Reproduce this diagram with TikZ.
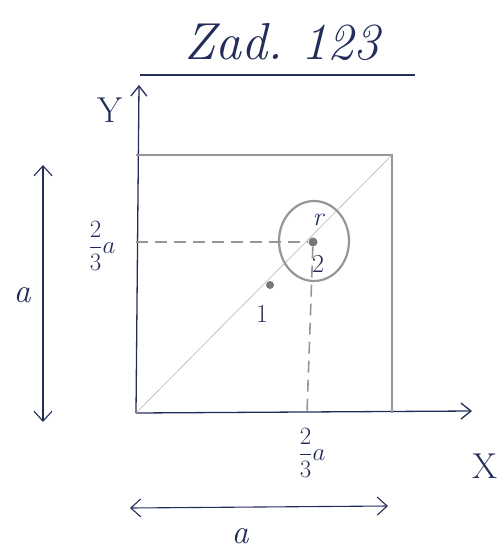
\documentclass[tikz,border=0pt]{standalone}
\usetikzlibrary{arrows.meta}
\definecolor{ink}{RGB}{35,45,90}
\definecolor{pencil}{RGB}{150,150,150}
\tikzset{
  hand/.style={text=ink, font=\itshape\fontsize{28}{28}\selectfont, inner sep=0pt},
  small/.style={text=ink, font=\itshape\fontsize{27}{27}\selectfont, inner sep=0pt},
  axis/.style={draw=ink, line width=1.3pt, -{Straight Barb[length=10pt,width=16pt]}},
  dimarrow/.style={draw=ink, line width=1.1pt, {Straight Barb[length=10pt,width=18pt]}-{Straight Barb[length=10pt,width=18pt]}},
  grayline/.style={draw=pencil, line width=1.2pt},
  thinline/.style={draw=pencil!70, line width=0.6pt},
  dashline/.style={draw=pencil, line width=1.6pt, dash pattern=on 12pt off 7pt},
  dot/.style={circle, fill=pencil!80!black, minimum size=9pt, inner sep=0pt}
}
\begin{document}
\begin{tikzpicture}[x=1pt,y=-1pt]
\useasboundingbox (0,0) rectangle (502,549);
% title
\node[hand, font=\itshape\fontsize{52}{52}\selectfont] (title) at (282,42) {Zad.\ 123};
\coordinate (ul1) at (140,75);
\coordinate (ul2) at (415,75);
\draw[ink, line width=1.3pt] (ul1) -- (ul2);
% axes
\coordinate (O) at (136,413);
\coordinate (Ytop) at (139,85);
\coordinate (Xend) at (472,411);
\draw[axis] (O) -- (Ytop);
\draw[axis] (O) -- (Xend);
\node[hand, font=\fontsize{36}{36}\selectfont] (Ylab) at (110,110) {Y};
\node[hand, font=\fontsize{36}{36}\selectfont] (Xlab) at (485,466) {X};
% square
\coordinate (TL) at (136,155);
\coordinate (TR) at (392,155);
\coordinate (BR) at (392,413);
\draw[grayline] (TL) -- (TR) -- (BR);
\draw[thinline] (O) -- (TR);
% dashed guides
\node[dot] (p2) at (313,242) {};
\node[dot, minimum size=8pt] (p1) at (270,285) {};
\coordinate (yd) at (136,242);
\coordinate (xd) at (307,413);
\draw[dashline] (yd) -- (p2);
\draw[dashline] (p2) -- (xd);
% circle
\draw[pencil, line width=2.2pt] (314,241) ellipse [x radius=35pt, y radius=40pt];
\node[small, font=\itshape\fontsize{26}{26}\selectfont] (rlab) at (318,220) {r};
\node[small, font=\fontsize{26}{26}\selectfont] (lab2) at (318,264) {2};
\node[small, font=\fontsize{26}{26}\selectfont] (lab1) at (262,314) {1};
% fractions
\node[small] (fy) at (102,246) {$\displaystyle\frac{2}{3}a$};
\node[small] (fx) at (312,453) {$\displaystyle\frac{2}{3}a$};
% dimension arrows
\coordinate (v1) at (43,165);
\coordinate (v2) at (43,422);
\draw[dimarrow] (v1) -- (v2);
\node[hand, font=\itshape\fontsize{34}{34}\selectfont] (alv) at (22,295) {a};
\coordinate (h1) at (130,508);
\coordinate (h2) at (388,506);
\draw[dimarrow] (h1) -- (h2);
\node[hand, font=\itshape\fontsize{34}{34}\selectfont] (alh) at (240,536) {a};
\end{tikzpicture}
\end{document}
